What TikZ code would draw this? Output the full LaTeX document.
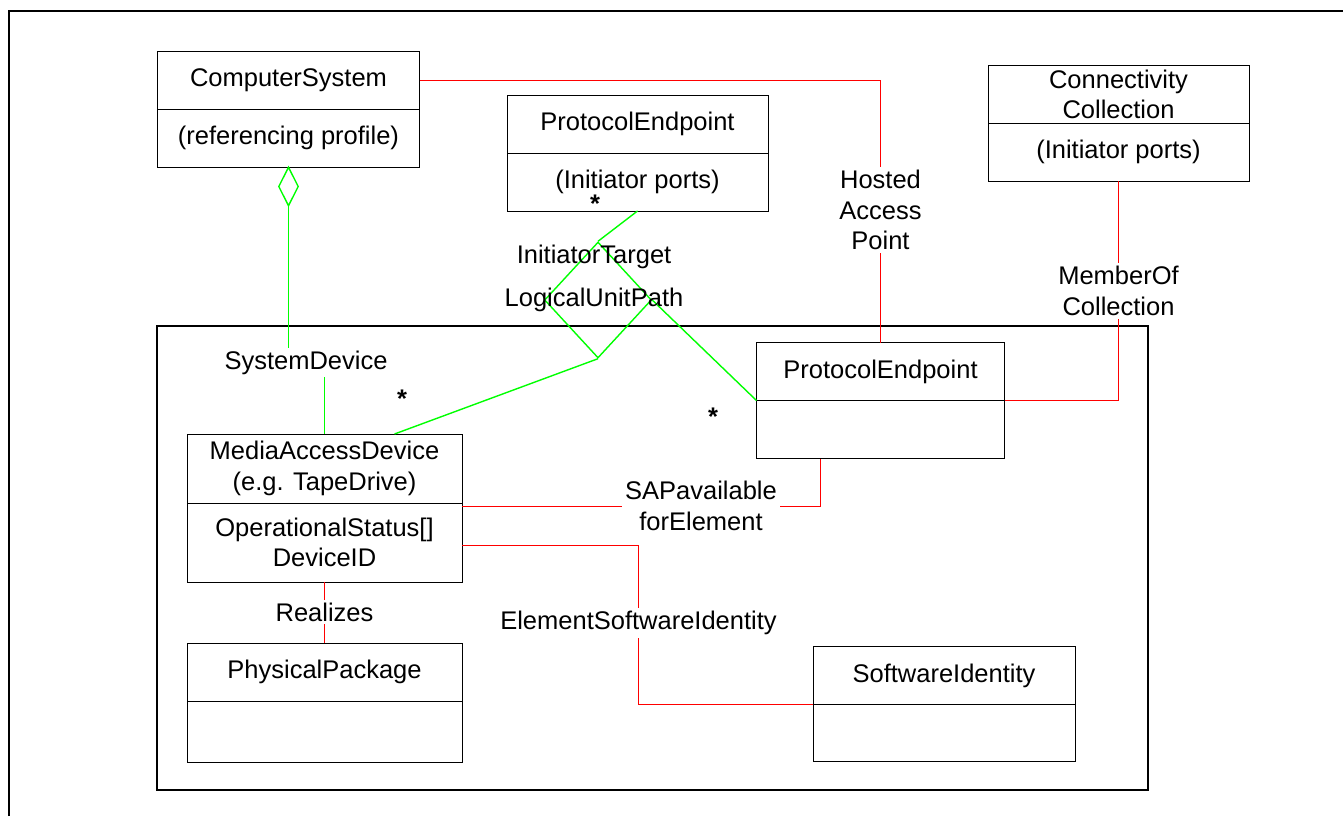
\documentclass[tikz,border=0pt]{standalone}
\usepackage{fontspec}
\setmainfont{Liberation Sans}
\usetikzlibrary{shapes.geometric,calc}
\definecolor{assocred}{RGB}{255,0,0}
\definecolor{assocgreen}{RGB}{0,255,0}
\newcommand{\lab}{\fontsize{25.5bp}{30.6bp}\selectfont}
\begin{document}
\begin{tikzpicture}[x=1bp,y=-1bp,
  comp/.style={draw, line width=1bp, inner sep=0pt, outer sep=0pt, align=center, font=\lab},
  rel/.style={draw=assocred, line width=1.4bp},
  aggl/.style={draw=assocgreen, line width=1.4bp},
  lbl/.style={font=\lab, align=center, fill=white, inner sep=3bp},
  plainlbl/.style={font=\lab, align=center, inner sep=0pt},
  mult/.style={font=\lab\bfseries, anchor=base, inner sep=0pt},
  frameline/.style={line width=2bp}]
\useasboundingbox (0,0) rectangle (1343,816);
% outer frame (partly visible)
\draw[frameline] (9,816) -- (9,11) -- (1343,11);
% profile container
\node[draw, line width=2bp, inner sep=0pt, minimum width=991bp, minimum height=464bp] (prof) at (652.5,558) {};

% classes
\node[comp, minimum width=262bp, minimum height=57bp] (cst) at (288.5,80.5) {ComputerSystem};
\node[comp, minimum width=262bp, minimum height=58bp] (csb) at (288.5,138) {(referencing profile)};

\node[comp, minimum width=261bp, minimum height=58bp] (upet) at (637.5,124) {ProtocolEndpoint};
\node[comp, minimum width=261bp, minimum height=58bp] (upeb) at (637.5,182) {(Initiator ports)};

\node[comp, minimum width=261bp, minimum height=57bp] (cct) at (1118.5,94.5) {Connectivity\\Collection};
\node[comp, minimum width=261bp, minimum height=58bp] (ccb) at (1118.5,152) {(Initiator ports)};

\node[comp, minimum width=248bp, minimum height=58bp] (lpet) at (880.5,371.5) {ProtocolEndpoint};
\node[comp, minimum width=248bp, minimum height=58bp] (lpeb) at (880.5,429.5) {};

\node[comp, minimum width=275bp, minimum height=69bp] (madt) at (324.5,468.5) {MediaAccessDevice\\(e.g. TapeDrive)};
\node[comp, minimum width=275bp, minimum height=79bp] (madb) at (324.5,542.5) {OperationalStatus[]\\DeviceID};

\node[comp, minimum width=275bp, minimum height=58bp] (ppt) at (324.5,672) {PhysicalPackage};
\node[comp, minimum width=275bp, minimum height=61bp] (ppb) at (324.5,731.5) {};

\node[comp, minimum width=262bp, minimum height=58bp] (sit) at (944,675.5) {SoftwareIdentity};
\node[comp, minimum width=262bp, minimum height=57bp] (sib) at (944,733) {};

% aggregation diamond and ternary association diamond
\node[diamond, aggl, minimum width=20bp, minimum height=39bp, inner sep=0pt] (aggd) at (288.5,186.5) {};
\node[diamond, aggl, minimum width=107bp, minimum height=116bp, inner sep=0pt] (tern) at (598,300) {};

% label anchor points
\coordinate (sdP) at (306,362.5);
\coordinate (esiP) at (638.5,623);

% connectors
\draw[rel] (cst.east) -| (lpet.north);
\draw[rel] (ccb.south) |- (lpet.south east);
\draw[rel] ($(madb.north east)+(0,3.5)$) -| ($(lpeb.south)+(-60,0)$);
\draw[rel] ($(madb.east)+(0,3)$) -| (esiP) |- (sit.south west);
\draw[rel] (madb.south) -- (ppt.north);
\draw[aggl] (aggd.south) |- (sdP) -| (madt.north);
\draw[aggl] (upeb.south) -- (tern.north);
\draw[aggl] (tern.east) -- (lpet.south west);
\draw[aggl] (tern.south) -- ($(madt.north)+(70,0)$);

% labels
\node[lbl] (hap) at (880.5,210) {Hosted\\Access\\Point};
\node[lbl] (moc) at (1118.5,291) {MemberOf\\Collection};
\node[lbl] (sd) at (sdP) {SystemDevice};
\node[lbl] (sap) at (701,506) {SAPavailable\\forElement};
\node[lbl] (esi) at (esiP) {ElementSoftwareIdentity};
\node[lbl] (real) at (324.5,612) {Realizes};
\node[plainlbl] (itl1) at (594,257) {InitiatorTarget};
\node[plainlbl] (itl2) at (594,300) {LogicalUnitPath};
\node[mult] (m1) at (595,212) {*};
\node[mult] (m2) at (402,407) {*};
\node[mult] (m3) at (713,425) {*};
\end{tikzpicture}
\end{document}
